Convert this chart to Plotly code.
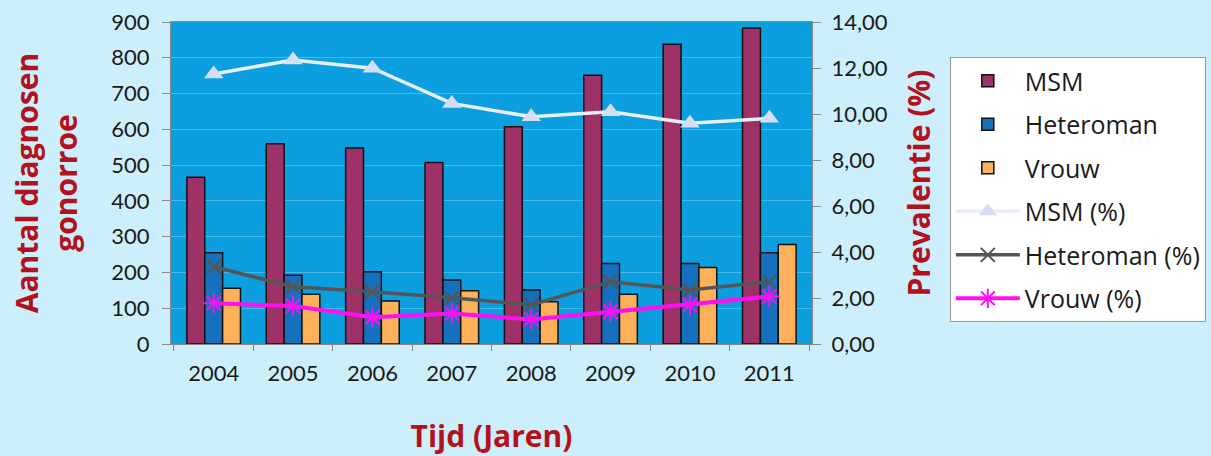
import plotly.graph_objects as go

years = ["2004", "2005", "2006", "2007", "2008", "2009", "2010", "2011"]
msm = [466, 560, 548, 507, 607, 751, 838, 883]
heteroman = [255, 192, 202, 179, 151, 225, 225, 255]
vrouw = [156, 139, 120, 149, 118, 139, 214, 278]
msm_pct = [11.74, 12.35, 11.99, 10.46, 9.88, 10.10, 9.60, 9.81]
heteroman_pct = [3.36, 2.49, 2.27, 2.01, 1.70, 2.71, 2.35, 2.71]
vrouw_pct = [1.77, 1.65, 1.16, 1.33, 1.07, 1.40, 1.70, 2.06]

left_ticks = [0, 100, 200, 300, 400, 500, 600, 700, 800, 900]
right_ticks = [0, 2, 4, 6, 8, 10, 12, 14]

TICKFONT = "Lato"
FONT = "Open Sans"
TXT = "#1a1a1a"
RED = "#b3121d"

fig = go.Figure()
bar_line = dict(color="#111111", width=1.5)
fig.add_trace(go.Bar(x=years, y=msm, name="MSM", marker=dict(color="#9e3266", line=bar_line),
                     legendgroup="a"))
fig.add_trace(go.Bar(x=years, y=heteroman, name="Heteroman", marker=dict(color="#1570bd", line=bar_line),
                     legendgroup="b"))
fig.add_trace(go.Bar(x=years, y=vrouw, name="Vrouw", marker=dict(color="#fdb15a", line=bar_line),
                     legendgroup="c"))
fig.add_trace(go.Scatter(x=years, y=msm_pct, name="MSM (%)", yaxis="y2", mode="lines+markers",
                         line=dict(color="#e8eefa", width=3.5),
                         marker=dict(symbol="triangle-up", size=17, color="#d6def4"),
                         legendgroup="d"))
fig.add_trace(go.Scatter(x=years, y=heteroman_pct, name="Heteroman (%)", yaxis="y2", mode="lines+markers",
                         line=dict(color="#555555", width=3.5),
                         marker=dict(symbol="x-thin-open", size=14, color="#555555",
                                     line=dict(color="#555555", width=2)),
                         legendgroup="e"))
fig.add_trace(go.Scatter(x=years, y=vrouw_pct, name="Vrouw (%)", yaxis="y2", mode="lines+markers",
                         line=dict(color="#ff10f0", width=4),
                         marker=dict(symbol="asterisk-open", size=17, color="#ff10f0",
                                     line=dict(color="#ff10f0", width=2)),
                         legendgroup="f"))

fig.update_layout(
    width=1211, height=456,
    margin=dict(l=171, r=399, t=22, b=112, autoexpand=False),
    paper_bgcolor="#cdeefb",
    plot_bgcolor="#0c9fe0",
    separators=",.",
    barmode="group", bargap=0.325, bargroupgap=0,
    font=dict(family=TICKFONT, size=22, color=TXT),
    showlegend=True,
    legend=dict(x=1.215, y=0.891, xanchor="left", yanchor="top",
                bgcolor="white", bordercolor="#9a9a9a", borderwidth=1,
                font=dict(family=FONT, size=25, color=TXT),
                tracegroupgap=8, itemwidth=64, traceorder="grouped"),
    xaxis=dict(type="category", showline=True, linecolor="#8a8a8a", linewidth=1, mirror=True,
               ticks="outside", tickson="boundaries", ticklen=6, tickcolor="#8a8a8a",
               showgrid=False, tickfont=dict(size=22), ticklabelstandoff=10,
               title=dict(text="<b>Tijd (Jaren)</b>", font=dict(family=FONT, size=30, color=RED),
                          standoff=40)),
    yaxis=dict(range=[0, 900], tickvals=left_ticks, showline=True, linecolor="#8a8a8a", mirror=True,
               ticks="outside", ticklen=8, tickcolor="#8a8a8a",
               gridcolor="#45b9ec", gridwidth=1, zeroline=False, tickfont=dict(size=22),
               ticklabelstandoff=8,
               title=dict(text="<b>Aantal diagnosen<br>gonorroe</b>",
                          font=dict(family=FONT, size=30, color=RED), standoff=24)),
    yaxis2=dict(range=[0, 14], tickvals=right_ticks, tickformat=".2f", overlaying="y", side="right",
                showgrid=False, zeroline=False, ticks="outside", ticklen=8, tickcolor="#8a8a8a",
                tickfont=dict(size=22), ticklabelstandoff=6,
                title=dict(text="<b>Prevalentie (%)</b>", font=dict(family=FONT, size=30, color=RED),
                           standoff=22)),
)

fig.write_html("out.html", config={"displayModeBar": False},
               post_script="document.body.style.margin='0';document.body.style.overflow='hidden';")
